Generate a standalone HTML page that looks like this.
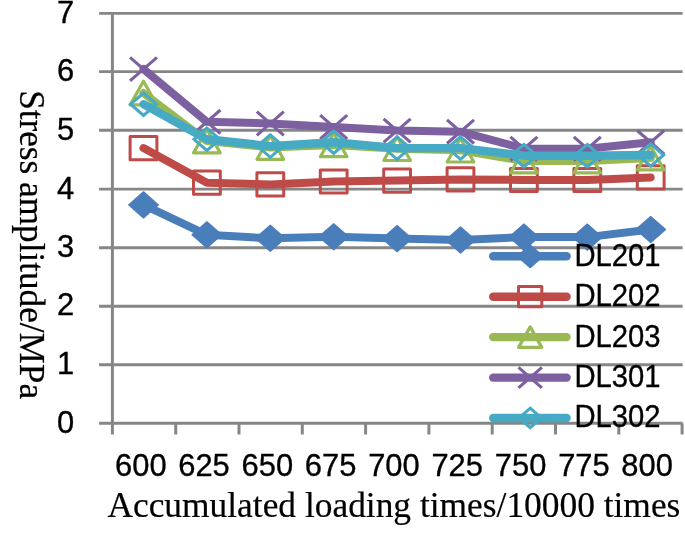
<!DOCTYPE html>
<html><head><meta charset="utf-8"><title>chart</title>
<style>
html,body{margin:0;padding:0;background:#fff;}
svg{display:block}
.t{font-family:"Liberation Sans",sans-serif;font-size:30.9px;fill:#000;stroke:#000;stroke-width:0.35px}
.l{font-family:"Liberation Sans",sans-serif;font-size:30.9px;fill:#000;stroke:#000;stroke-width:0.35px}
.s{font-family:"Liberation Serif",serif;font-size:34.8px;fill:#000;stroke:#000;stroke-width:0.2px}
</style></head><body>
<svg width="685" height="533" viewBox="0 0 685 533">
<rect width="685" height="533" fill="#fff"/>
<line x1="99.1" y1="423.3" x2="682.6" y2="423.3" stroke="#868686" stroke-width="2.9"/>
<line x1="99.1" y1="364.8" x2="682.6" y2="364.8" stroke="#868686" stroke-width="2.9"/>
<line x1="99.1" y1="306.2" x2="682.6" y2="306.2" stroke="#868686" stroke-width="2.9"/>
<line x1="99.1" y1="247.7" x2="682.6" y2="247.7" stroke="#868686" stroke-width="2.9"/>
<line x1="99.1" y1="189.1" x2="682.6" y2="189.1" stroke="#868686" stroke-width="2.9"/>
<line x1="99.1" y1="130.2" x2="682.6" y2="130.2" stroke="#868686" stroke-width="2.9"/>
<line x1="99.1" y1="71.6" x2="682.6" y2="71.6" stroke="#868686" stroke-width="2.9"/>
<line x1="99.1" y1="13.4" x2="682.6" y2="13.4" stroke="#868686" stroke-width="2.9"/>
<line x1="112.4" y1="12.2" x2="112.4" y2="434.5" stroke="#868686" stroke-width="3.0"/>
<line x1="175.7" y1="423.3" x2="175.7" y2="434.5" stroke="#868686" stroke-width="3.0"/>
<line x1="239.0" y1="423.3" x2="239.0" y2="434.5" stroke="#868686" stroke-width="3.0"/>
<line x1="302.3" y1="423.3" x2="302.3" y2="434.5" stroke="#868686" stroke-width="3.0"/>
<line x1="365.6" y1="423.3" x2="365.6" y2="434.5" stroke="#868686" stroke-width="3.0"/>
<line x1="428.9" y1="423.3" x2="428.9" y2="434.5" stroke="#868686" stroke-width="3.0"/>
<line x1="492.2" y1="423.3" x2="492.2" y2="434.5" stroke="#868686" stroke-width="3.0"/>
<line x1="555.5" y1="423.3" x2="555.5" y2="434.5" stroke="#868686" stroke-width="3.0"/>
<line x1="618.8" y1="423.3" x2="618.8" y2="434.5" stroke="#868686" stroke-width="3.0"/>
<line x1="682.1" y1="423.3" x2="682.1" y2="434.5" stroke="#868686" stroke-width="3.0"/>
<text x="74.2" y="433.2" text-anchor="end" class="t">0</text>
<text x="74.2" y="373.9" text-anchor="end" class="t">1</text>
<text x="74.2" y="315.3" text-anchor="end" class="t">2</text>
<text x="74.2" y="256.8" text-anchor="end" class="t">3</text>
<text x="74.2" y="198.6" text-anchor="end" class="t">4</text>
<text x="74.2" y="139.7" text-anchor="end" class="t">5</text>
<text x="74.2" y="81.1" text-anchor="end" class="t">6</text>
<text x="74.2" y="22.6" text-anchor="end" class="t">7</text>
<text x="140.8" y="475.7" text-anchor="middle" class="t">600</text>
<text x="204.0" y="475.7" text-anchor="middle" class="t">625</text>
<text x="267.3" y="475.7" text-anchor="middle" class="t">650</text>
<text x="330.6" y="475.7" text-anchor="middle" class="t">675</text>
<text x="393.9" y="475.7" text-anchor="middle" class="t">700</text>
<text x="457.2" y="475.7" text-anchor="middle" class="t">725</text>
<text x="520.6" y="475.7" text-anchor="middle" class="t">750</text>
<text x="583.9" y="475.7" text-anchor="middle" class="t">775</text>
<text x="647.1" y="475.7" text-anchor="middle" class="t">800</text>
<polyline points="143.5,204.9 206.9,234.8 270.3,238.3 333.7,236.8 397.1,238.6 460.5,240.0 523.9,237.1 587.3,237.1 650.7,229.5" fill="none" stroke="#4A7EBB" stroke-width="8.0" stroke-linecap="round" stroke-linejoin="round"/>
<path d="M143.5 191.8L158.4 204.9L143.5 218.0L128.6 204.9Z" fill="#4A7EBB" stroke="#4A7EBB" stroke-width="1.2" stroke-linejoin="round"/>
<path d="M206.9 221.7L221.8 234.8L206.9 247.9L192.0 234.8Z" fill="#4A7EBB" stroke="#4A7EBB" stroke-width="1.2" stroke-linejoin="round"/>
<path d="M270.3 225.2L285.2 238.3L270.3 251.4L255.4 238.3Z" fill="#4A7EBB" stroke="#4A7EBB" stroke-width="1.2" stroke-linejoin="round"/>
<path d="M333.7 223.7L348.6 236.8L333.7 249.9L318.8 236.8Z" fill="#4A7EBB" stroke="#4A7EBB" stroke-width="1.2" stroke-linejoin="round"/>
<path d="M397.1 225.5L412.0 238.6L397.1 251.7L382.2 238.6Z" fill="#4A7EBB" stroke="#4A7EBB" stroke-width="1.2" stroke-linejoin="round"/>
<path d="M460.5 226.9L475.4 240.0L460.5 253.1L445.6 240.0Z" fill="#4A7EBB" stroke="#4A7EBB" stroke-width="1.2" stroke-linejoin="round"/>
<path d="M523.9 224.0L538.8 237.1L523.9 250.2L509.0 237.1Z" fill="#4A7EBB" stroke="#4A7EBB" stroke-width="1.2" stroke-linejoin="round"/>
<path d="M587.3 224.0L602.2 237.1L587.3 250.2L572.4 237.1Z" fill="#4A7EBB" stroke="#4A7EBB" stroke-width="1.2" stroke-linejoin="round"/>
<path d="M650.7 216.4L665.6 229.5L650.7 242.6L635.8 229.5Z" fill="#4A7EBB" stroke="#4A7EBB" stroke-width="1.2" stroke-linejoin="round"/>
<polyline points="143.5,148.1 206.9,182.7 270.3,184.4 333.7,181.5 397.1,180.6 460.5,179.4 523.9,180.0 587.3,180.0 650.7,177.4" fill="none" stroke="#BE4B48" stroke-width="8.0" stroke-linecap="round" stroke-linejoin="round"/>
<rect x="130.1" y="136.5" width="26.8" height="23.2" fill="none" stroke="#BE4B48" stroke-width="3" stroke-linejoin="round"/>
<rect x="193.5" y="171.1" width="26.8" height="23.2" fill="none" stroke="#BE4B48" stroke-width="3" stroke-linejoin="round"/>
<rect x="256.9" y="172.8" width="26.8" height="23.2" fill="none" stroke="#BE4B48" stroke-width="3" stroke-linejoin="round"/>
<rect x="320.3" y="169.9" width="26.8" height="23.2" fill="none" stroke="#BE4B48" stroke-width="3" stroke-linejoin="round"/>
<rect x="383.7" y="169.0" width="26.8" height="23.2" fill="none" stroke="#BE4B48" stroke-width="3" stroke-linejoin="round"/>
<rect x="447.1" y="167.8" width="26.8" height="23.2" fill="none" stroke="#BE4B48" stroke-width="3" stroke-linejoin="round"/>
<rect x="510.5" y="168.4" width="26.8" height="23.2" fill="none" stroke="#BE4B48" stroke-width="3" stroke-linejoin="round"/>
<rect x="573.9" y="168.4" width="26.8" height="23.2" fill="none" stroke="#BE4B48" stroke-width="3" stroke-linejoin="round"/>
<rect x="637.3" y="165.8" width="26.8" height="23.2" fill="none" stroke="#BE4B48" stroke-width="3" stroke-linejoin="round"/>
<polyline points="143.5,93.1 206.9,141.1 270.3,147.5 333.7,144.9 397.1,148.7 460.5,150.2 523.9,161.0 587.3,161.0 650.7,158.1" fill="none" stroke="#98B954" stroke-width="8.0" stroke-linecap="round" stroke-linejoin="round"/>
<path d="M143.5 81.3L156.8 104.9L130.2 104.9Z" fill="none" stroke="#98B954" stroke-width="3.2" stroke-linejoin="round"/>
<path d="M206.9 129.3L220.2 152.9L193.6 152.9Z" fill="none" stroke="#98B954" stroke-width="3.2" stroke-linejoin="round"/>
<path d="M270.3 135.7L283.6 159.3L257.0 159.3Z" fill="none" stroke="#98B954" stroke-width="3.2" stroke-linejoin="round"/>
<path d="M333.7 133.1L347.0 156.7L320.4 156.7Z" fill="none" stroke="#98B954" stroke-width="3.2" stroke-linejoin="round"/>
<path d="M397.1 136.9L410.4 160.5L383.8 160.5Z" fill="none" stroke="#98B954" stroke-width="3.2" stroke-linejoin="round"/>
<path d="M460.5 138.4L473.8 162.0L447.2 162.0Z" fill="none" stroke="#98B954" stroke-width="3.2" stroke-linejoin="round"/>
<path d="M523.9 149.2L537.2 172.8L510.6 172.8Z" fill="none" stroke="#98B954" stroke-width="3.2" stroke-linejoin="round"/>
<path d="M587.3 149.2L600.6 172.8L574.0 172.8Z" fill="none" stroke="#98B954" stroke-width="3.2" stroke-linejoin="round"/>
<path d="M650.7 146.3L664.0 169.9L637.4 169.9Z" fill="none" stroke="#98B954" stroke-width="3.2" stroke-linejoin="round"/>
<polyline points="143.5,69.1 206.9,121.8 270.3,123.5 333.7,127.0 397.1,130.6 460.5,131.7 523.9,148.7 587.3,148.7 650.7,142.3" fill="none" stroke="#7D60A0" stroke-width="8.0" stroke-linecap="round" stroke-linejoin="round"/>
<path d="M130.0 57.3L157.0 80.9M130.0 80.9L157.0 57.3" fill="none" stroke="#7D60A0" stroke-width="3.1"/>
<path d="M193.4 110.0L220.4 133.6M193.4 133.6L220.4 110.0" fill="none" stroke="#7D60A0" stroke-width="3.1"/>
<path d="M256.8 111.7L283.8 135.3M256.8 135.3L283.8 111.7" fill="none" stroke="#7D60A0" stroke-width="3.1"/>
<path d="M320.2 115.2L347.2 138.8M320.2 138.8L347.2 115.2" fill="none" stroke="#7D60A0" stroke-width="3.1"/>
<path d="M383.6 118.8L410.6 142.4M383.6 142.4L410.6 118.8" fill="none" stroke="#7D60A0" stroke-width="3.1"/>
<path d="M447.0 119.9L474.0 143.5M447.0 143.5L474.0 119.9" fill="none" stroke="#7D60A0" stroke-width="3.1"/>
<path d="M510.4 136.9L537.4 160.5M510.4 160.5L537.4 136.9" fill="none" stroke="#7D60A0" stroke-width="3.1"/>
<path d="M573.8 136.9L600.8 160.5M573.8 160.5L600.8 136.9" fill="none" stroke="#7D60A0" stroke-width="3.1"/>
<path d="M637.2 130.5L664.2 154.1M637.2 154.1L664.2 130.5" fill="none" stroke="#7D60A0" stroke-width="3.1"/>
<polyline points="143.5,104.2 206.9,139.3 270.3,146.1 333.7,142.3 397.1,148.1 460.5,148.1 523.9,155.7 587.3,155.7 650.7,155.0" fill="none" stroke="#46AAC5" stroke-width="8.4" stroke-linecap="round" stroke-linejoin="round"/>
<path d="M143.5 93.0L156.4 104.2L143.5 115.4L130.6 104.2Z" fill="none" stroke="#46AAC5" stroke-width="3.1"/>
<path d="M206.9 128.1L219.8 139.3L206.9 150.5L194.0 139.3Z" fill="none" stroke="#46AAC5" stroke-width="3.1"/>
<path d="M270.3 134.9L283.2 146.1L270.3 157.3L257.4 146.1Z" fill="none" stroke="#46AAC5" stroke-width="3.1"/>
<path d="M333.7 131.1L346.6 142.3L333.7 153.5L320.8 142.3Z" fill="none" stroke="#46AAC5" stroke-width="3.1"/>
<path d="M397.1 136.9L410.0 148.1L397.1 159.3L384.2 148.1Z" fill="none" stroke="#46AAC5" stroke-width="3.1"/>
<path d="M460.5 136.9L473.4 148.1L460.5 159.3L447.6 148.1Z" fill="none" stroke="#46AAC5" stroke-width="3.1"/>
<path d="M523.9 144.5L536.8 155.7L523.9 166.9L511.0 155.7Z" fill="none" stroke="#46AAC5" stroke-width="3.1"/>
<path d="M587.3 144.5L600.2 155.7L587.3 166.9L574.4 155.7Z" fill="none" stroke="#46AAC5" stroke-width="3.1"/>
<path d="M650.7 143.8L663.6 155.0L650.7 166.2L637.8 155.0Z" fill="none" stroke="#46AAC5" stroke-width="3.1"/>
<line x1="493.2" y1="256.3" x2="566.6" y2="256.3" stroke="#4A7EBB" stroke-width="8.4" stroke-linecap="round"/>
<path d="M530.2 244.9L543.2 256.3L530.2 267.7L517.2 256.3Z" fill="#4A7EBB" stroke="#4A7EBB" stroke-width="1.2" stroke-linejoin="round"/>
<text x="574.5" y="265.7" class="l" textLength="86.1" lengthAdjust="spacingAndGlyphs">DL201</text>
<line x1="493.2" y1="296.7" x2="566.6" y2="296.7" stroke="#BE4B48" stroke-width="8.4" stroke-linecap="round"/>
<rect x="518.5" y="286.6" width="23.3" height="20.2" fill="none" stroke="#BE4B48" stroke-width="3" stroke-linejoin="round"/>
<text x="574.5" y="306.1" class="l" textLength="86.1" lengthAdjust="spacingAndGlyphs">DL202</text>
<line x1="493.2" y1="337.1" x2="566.6" y2="337.1" stroke="#98B954" stroke-width="8.4" stroke-linecap="round"/>
<path d="M530.2 326.9L541.8 347.4L518.6 347.4Z" fill="none" stroke="#98B954" stroke-width="3.2" stroke-linejoin="round"/>
<text x="574.5" y="346.5" class="l" textLength="86.1" lengthAdjust="spacingAndGlyphs">DL203</text>
<line x1="493.2" y1="377.6" x2="566.6" y2="377.6" stroke="#7D60A0" stroke-width="8.4" stroke-linecap="round"/>
<path d="M518.5 367.3L541.9 387.8M518.5 387.8L541.9 367.3" fill="none" stroke="#7D60A0" stroke-width="3.1"/>
<text x="574.5" y="387.0" class="l" textLength="86.1" lengthAdjust="spacingAndGlyphs">DL301</text>
<line x1="493.2" y1="418.0" x2="566.6" y2="418.0" stroke="#46AAC5" stroke-width="8.4" stroke-linecap="round"/>
<path d="M530.2 408.2L541.4 418.0L530.2 427.7L519.0 418.0Z" fill="none" stroke="#46AAC5" stroke-width="3.1"/>
<text x="574.5" y="427.4" class="l" textLength="86.1" lengthAdjust="spacingAndGlyphs">DL302</text>
<text x="107.4" y="516.5" class="s" textLength="573" lengthAdjust="spacingAndGlyphs">Accumulated loading times/10000 times</text>
<text transform="translate(20.2,244.6) rotate(90) scale(1.009,1.045)" text-anchor="middle" class="s" style="font-size:34.9px;word-spacing:-1px">Stress amplitude/MPa</text>
</svg>
</body></html>
